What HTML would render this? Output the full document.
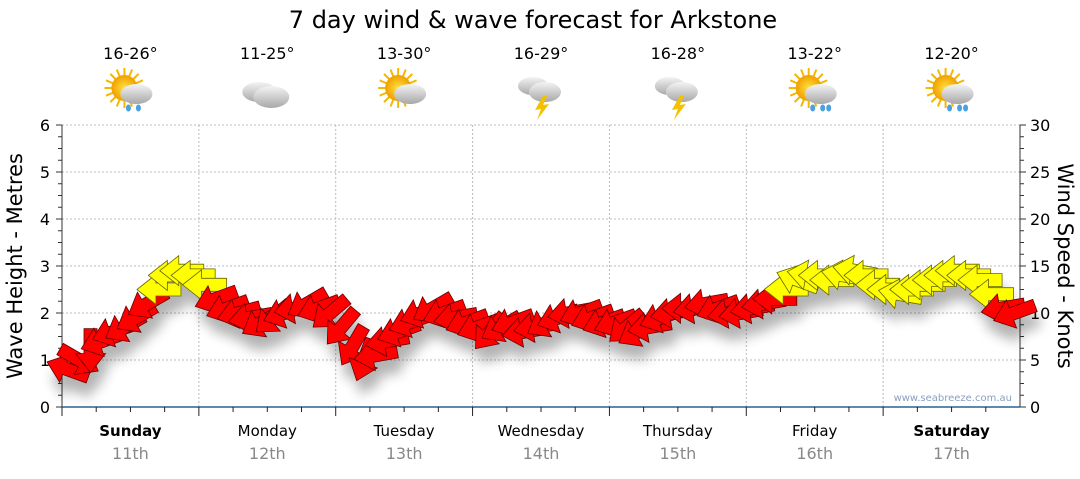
<!DOCTYPE html>
<html><head><meta charset="utf-8"><style>
body{margin:0;background:#fff;width:1080px;height:475px;overflow:hidden;font-family:"DejaVu Sans","Liberation Sans",sans-serif}
svg text{font-family:"DejaVu Sans","Liberation Sans",sans-serif}
</style></head><body>
<svg id="c" width="1080" height="475">
<defs>
<filter id="sh" x="-50%" y="-50%" width="200%" height="250%"><feGaussianBlur in="SourceAlpha" stdDeviation="6"/><feOffset dx="4" dy="14"/><feComponentTransfer><feFuncA type="linear" slope="0.3"/></feComponentTransfer><feMerge><feMergeNode/><feMergeNode in="SourceGraphic"/></feMerge></filter>
<radialGradient id="sun" cx="50%" cy="50%" r="50%"><stop offset="0" stop-color="#ffe040"/><stop offset="1" stop-color="#f0a000"/></radialGradient>
<linearGradient id="cl" x1="0" y1="0" x2="0" y2="1"><stop offset="0" stop-color="#f4f4f4"/><stop offset="1" stop-color="#a8a8a8"/></linearGradient>
</defs>
<text x="533" y="28" font-size="24" text-anchor="middle">7 day wind &amp; wave forecast for Arkstone</text>
<g id="grid"></g><g id="icons"></g><g id="axes"></g><g id="arrows" filter="url(#sh)"></g>
<text x="1012" y="401" font-size="10" fill="#8aa0c0" text-anchor="end">www.seabreeze.com.au</text>
<text transform="translate(22,266) rotate(-90)" font-size="21" text-anchor="middle">Wave Height - Metres</text>
<text transform="translate(1058,266) rotate(90)" font-size="21" text-anchor="middle">Wind Speed - Knots</text>
</svg>
<script>
const days=["Sunday","Monday","Tuesday","Wednesday","Thursday","Friday","Saturday"];
const dates=["11th","12th","13th","14th","15th","16th","17th"];
const temps=["16-26°","11-25°","13-30°","16-29°","16-28°","13-22°","12-20°"];
const icons=["sunrain","cloud","suncloud","storm","storm","sunrain","sunrain"];
const leftTicks=[0,1,2,3,4,5,6];
const rightTicks=[0,5,10,15,20,25,30];
const windSpeed=[4,5,6,7,8,8.5,9.5,11,12.5,14,14.5,14,
13,11.5,10.5,10,9.5,9,9.5,10,10.5,11,10.5,10,
8.5,6.5,5,5.5,7,8,9,10,10.5,10,9.5,9,
8.5,8,8.5,9,8,8.5,9,9.5,10,10,9.5,9,
9,8.5,8,8.5,9.5,10,10.5,10.5,11,10.5,10,10,
10.5,11,11.5,12.5,13.5,14,14,13.5,14,14.5,14,13,
12.5,12,12.5,13,13.5,14,14.5,14,13.5,12,10.5,10];
const windDir=[200,30,90,160,160,150,150,150,180,180,180,180,
180,160,160,165,170,150,140,160,170,150,160,140,
130,120,110,170,170,160,160,160,150,160,170,160,
160,130,150,160,170,170,150,160,170,160,160,160,
160,140,150,170,160,170,180,170,170,160,170,170,
170,170,180,180,200,190,180,180,190,190,180,180,
180,190,180,180,180,180,180,180,180,180,170,160];
const NS="http://www.w3.org/2000/svg";
const X0=62,X1=1020,Y0=407,Y1=125,DW=(X1-X0)/7;
const yL=m=>Y0-(Y0-Y1)*m/6, yR=k=>Y0-(Y0-Y1)*k/30;
function el(t,a,p){const e=document.createElementNS(NS,t);for(const k in a)e.setAttribute(k,a[k]);p.appendChild(e);return e;}
const g=document.getElementById('grid'),ax=document.getElementById('axes'),ic=document.getElementById('icons'),ar=document.getElementById('arrows');
leftTicks.forEach(v=>{if(v>0){const l=el('line',{x1:X0,x2:X1,y1:yL(v),y2:yL(v),stroke:'#bbb','stroke-dasharray':'2,2'},g);

}
const t=el('text',{x:X0-12,y:yL(v)+6,'font-size':16,'text-anchor':'end'},ax);t.textContent=v;

});
rightTicks.forEach(v=>{const t=el('text',{x:X1+10,y:yR(v)+6,'font-size':16},ax);t.textContent=v;

});
for(let m=0;m<=6;m+=0.25){const big=m%1===0;el('line',{x1:X0-(big?6:4),x2:X0,y1:yL(m),y2:yL(m),stroke:'#333'},ax);el('line',{x1:X1,x2:X1+(big?6:4),y1:yL(m),y2:yL(m),stroke:'#333'},ax);}
el('line',{x1:X0,x2:X0,y1:Y1,y2:Y0,stroke:'#333'},ax);el('line',{x1:X1,x2:X1,y1:Y1,y2:Y0,stroke:'#333'},ax);
el('line',{x1:X0,x2:X1,y1:Y0,y2:Y0,stroke:'#2a6090','stroke-width':1.5},ax);
for(let d=0;d<7;d++){const x=X0+d*DW,cx=x+DW/2;
if(d>0){const l=el('line',{x1:x,x2:x,y1:Y1,y2:Y0,stroke:'#bbb','stroke-dasharray':'2,2'},g);}
el('line',{x1:x,x2:x,y1:Y0,y2:Y0+9,stroke:'#222'},ax);
for(let k=1;k<4;k++)el('line',{x1:x+k*DW/4,x2:x+k*DW/4,y1:Y0,y2:Y0+5,stroke:'#222'},ax);
const bold=(d===0||d===6);
const t1=el('text',{x:cx,y:436,'font-size':15,'text-anchor':'middle','font-weight':bold?'bold':'normal'},ax);t1.textContent=days[d];


const t2=el('text',{x:cx,y:459,'font-size':16,'text-anchor':'middle',fill:'#888'},ax);t2.textContent=dates[d];


const t3=el('text',{x:cx,y:59,'font-size':16,'text-anchor':'middle'},ic);t3.textContent=temps[d];


const ig=el('g',{transform:`translate(${cx},92)`},ic);


const ty=icons[d];
if(ty!=='cloud'&&ty!=='storm'){const sx=-6;
for(let a=0;a<360;a+=22.5){const r=a*Math.PI/180;el('line',{x1:sx+Math.cos(r)*12,y1:-4+Math.sin(r)*12,x2:sx+Math.cos(r)*20,y2:-4+Math.sin(r)*20,stroke:'#f5b800','stroke-width':2},ig);}
el('circle',{cx:sx,cy:-4,r:13,fill:'url(#sun)'},ig);}
if(ty==='cloud'){el('ellipse',{cx:-8,cy:0,rx:17,ry:10,fill:'url(#cl)'},ig);el('ellipse',{cx:4,cy:5,rx:18,ry:11,fill:'url(#cl)'},ig);}
else if(ty==='storm'){el('ellipse',{cx:-8,cy:-6,rx:15,ry:9,fill:'url(#cl)'},ig);el('ellipse',{cx:4,cy:0,rx:16,ry:10,fill:'url(#cl)'},ig);el('path',{d:'M2,4 L-6,18 L0,17 L-4,28 L8,12 L2,13 L6,4Z',fill:'#f5c000'},ig);}
else{el('ellipse',{cx:6,cy:2,rx:16,ry:10,fill:'url(#cl)'},ig);
if(ty==='sunrain'){[[-2,16],[8,16],[14,16]].slice(0,d===0?2:3).forEach(p=>el('ellipse',{cx:p[0],cy:p[1],rx:2.5,ry:3.5,fill:'#4aa0e0'},ig));}}
}
windSpeed.forEach((s,i)=>{const x=X0+(i+0.5)*DW/12,y=yR(s);
const p=el('path',{d:'M-22,-6.5 L3,-6.5 L3,-15 L22,0 L3,15 L3,6.5 L-22,6.5Z',transform:`translate(${x},${y}) rotate(${windDir[i]})`,fill:s>=12?'#ffff00':'#ff0000',stroke:s>=12?'#666600':'#600','stroke-width':0.8},ar);

});
</script>
</body></html>
